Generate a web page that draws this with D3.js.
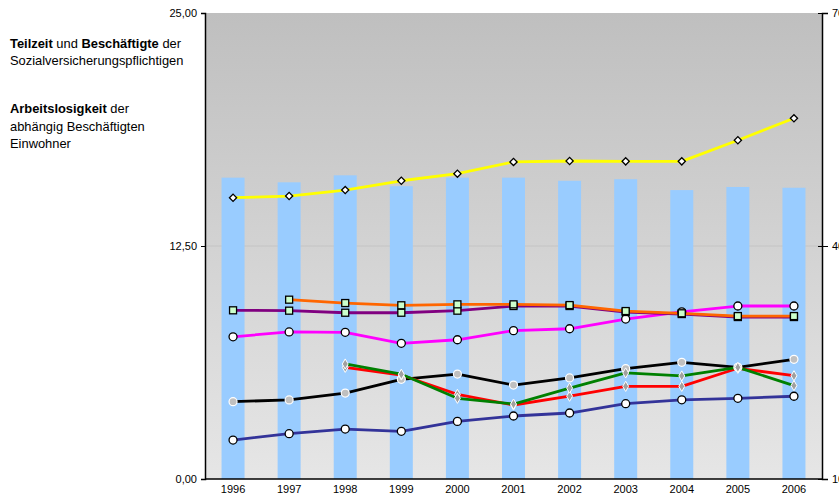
<!DOCTYPE html>
<html><head><meta charset="utf-8">
<script src="https://cdn.jsdelivr.net/npm/d3@7"></script>
<style>
html,body{margin:0;padding:0;background:#fff;overflow:hidden}
svg{display:block;font-family:"Liberation Sans",Arial,sans-serif}
</style></head><body>
<script>
const years = ["1996","1997","1998","1999","2000","2001","2002","2003","2004","2005","2006"];
const leftTicks = [0, 12.5, 25];
const rightTicks = [10, 40, 70];
// bars (right axis)
const barValues = [48.8, 48.2, 49.1, 47.7, 48.8, 48.8, 48.4, 48.6, 47.2, 47.6, 47.5];
// lines (left axis)
const yellow  = [15.09, 15.18, 15.50, 16.00, 16.38, 17.01, 17.06, 17.04, 17.04, 18.17, 19.35];
const orange  = [null, 9.62, 9.44, 9.32, 9.37, 9.37, 9.33, 9.01, 8.89, 8.74, 8.74];
const purple  = [9.05, 9.03, 8.92, 8.92, 9.03, 9.28, 9.28, 8.96, 8.85, 8.69, 8.69];
const magenta = [7.63, 7.89, 7.87, 7.28, 7.47, 7.96, 8.06, 8.58, 8.97, 9.28, 9.28];
const black   = [4.15, 4.24, 4.61, 5.35, 5.63, 5.04, 5.42, 5.92, 6.26, 5.99, 6.42];
const red     = [null, null, 5.99, 5.58, 4.54, 3.97, 4.44, 4.97, 4.97, 5.94, 5.54];
const green   = [null, null, 6.17, 5.62, 4.33, 4.02, 4.88, 5.69, 5.53, 5.99, 5.01];
const navy    = [2.09, 2.43, 2.68, 2.56, 3.09, 3.38, 3.54, 4.04, 4.25, 4.33, 4.44];

const series = [
  {v: navy, color:"#333399", m:"circle"},
  {v: black, color:"#000000", m:"gcircle"},
  {v: red, color:"#ff0000", m:"gdiamond"},
  {v: green, color:"#008000", m:"gdiamond"},
  {v: magenta, color:"#ff00ff", m:"circle"},
  {v: purple, color:"#800080", m:"square"},
  {v: orange, color:"#ff6600", m:"square"},
  {v: yellow, color:"#ffff00", m:"diamond"}
];

const W = 839, H = 498;
const m = {l:205, r:822, t:13, b:479};
const svg = d3.select("body").append("svg").attr("width", W).attr("height", H);

const defs = svg.append("defs");
const grad = defs.append("linearGradient").attr("id","bg").attr("x1",0).attr("y1",0).attr("x2",0).attr("y2",1);
grad.append("stop").attr("offset","0%").attr("stop-color","#bfbfbf");
grad.append("stop").attr("offset","100%").attr("stop-color","#e6e6e6");

const x = d3.scaleBand().domain(years).range([m.l, m.r]).padding(0);
const y = d3.scaleLinear().domain([0, 25]).range([m.b, m.t]);
const y2 = d3.scaleLinear().domain([10, 70]).range([m.b, m.t]);

svg.append("rect").attr("x", m.l).attr("y", m.t).attr("width", m.r - m.l).attr("height", m.b - m.t).attr("fill","url(#bg)");

// gridline
svg.append("line").attr("x1", m.l).attr("x2", m.r).attr("y1", y(12.5)).attr("y2", y(12.5))
  .attr("stroke","#c4c4c4").attr("stroke-width",1);

// bars
const bw = x.bandwidth() * 0.41;
svg.append("g").selectAll("rect").data(years).join("rect")
  .attr("x", d => x(d) + x.bandwidth()/2 - bw/2)
  .attr("width", bw)
  .attr("y", (d,i) => y2(barValues[i]))
  .attr("height", (d,i) => m.b - y2(barValues[i]))
  .attr("fill","#99ccff");

// axes
const fmt = d => d.toFixed(2).replace(".", ",");
const gl = svg.append("g").attr("transform", `translate(${m.l},0)`)
  .call(d3.axisLeft(y).tickValues(leftTicks).tickFormat(fmt).tickSize(4).tickPadding(4));
const gr = svg.append("g").attr("transform", `translate(${m.r},0)`)
  .call(d3.axisRight(y2).tickValues(rightTicks).tickFormat(fmt).tickSize(6).tickPadding(4));
const gb = svg.append("g").attr("transform", `translate(0,${m.b})`)
  .call(d3.axisBottom(x).tickSize(0).tickPadding(6));
[gl, gr, gb].forEach(g => {
  g.selectAll(".domain").attr("stroke","#000").attr("stroke-width",1.5);
  g.selectAll(".tick line").attr("stroke","#000");
  g.selectAll("text").attr("font-size", 11).attr("fill","#000").attr("font-family","Liberation Sans, Arial, sans-serif");
});
gr.selectAll(".tick line").attr("x1", -4);
gb.selectAll(".domain").attr("d", `M${m.l},0H${m.r}`);

// lines
const cx = (i) => x(years[i]) + x.bandwidth()/2;
series.forEach(s => {
  const pts = s.v.map((v,i) => ({v,i})).filter(d => d.v != null);
  const line = d3.line().x(d => cx(d.i)).y(d => y(d.v));
  svg.append("path").datum(pts).attr("d", line).attr("fill","none")
    .attr("stroke", s.color).attr("stroke-width", 2.8).attr("stroke-linejoin","round");
});
series.forEach(s => {
  const pts = s.v.map((v,i) => ({v,i})).filter(d => d.v != null);
  const g = svg.append("g");
  pts.forEach(d => {
    const px = cx(d.i), py = y(d.v);
    if (s.m === "circle") {
      g.append("circle").attr("cx",px).attr("cy",py).attr("r",4).attr("fill","#fff").attr("stroke","#000").attr("stroke-width",1.3);
    } else if (s.m === "gcircle") {
      g.append("circle").attr("cx",px).attr("cy",py).attr("r",4).attr("fill","#c0c0c0").attr("stroke","#fff").attr("stroke-width",1.2);
    } else if (s.m === "gdiamond") {
      g.append("path").attr("d", d3.symbol(d3.symbolDiamond, 30)()).attr("transform",`translate(${px},${py})`)
        .attr("fill","#a0a0a0").attr("stroke","#fff").attr("stroke-width",1);
    } else if (s.m === "square") {
      g.append("rect").attr("x",px-3.5).attr("y",py-3.5).attr("width",7).attr("height",7).attr("fill","#ccffcc").attr("stroke","#000").attr("stroke-width",1.3);
    } else if (s.m === "diamond") {
      g.append("path").attr("d", d3.symbol(d3.symbolSquare, 26)()).attr("transform",`translate(${px},${py}) rotate(45)`)
        .attr("fill","#fff").attr("stroke","#000").attr("stroke-width",1.3);
    }
  });
});

// annotation text
const t = svg.append("g").attr("font-size", 12.9).attr("fill","#000");
const t1 = t.append("text").attr("x",10).attr("y",48);
t1.append("tspan").attr("font-weight","bold").text("Teilzeit");
t1.append("tspan").text(" und ");
t1.append("tspan").attr("font-weight","bold").text("Beschäftigte");
t1.append("tspan").text(" der");
t.append("text").attr("x",10).attr("y",65).text("Sozialversicherungspflichtigen");
const t2 = t.append("text").attr("x",10).attr("y",113);
t2.append("tspan").attr("font-weight","bold").text("Arbeitslosigkeit");
t2.append("tspan").text(" der");
t.append("text").attr("x",10).attr("y",131).text("abhängig Beschäftigten");
t.append("text").attr("x",10).attr("y",148).text("Einwohner");
</script>
</body></html>
